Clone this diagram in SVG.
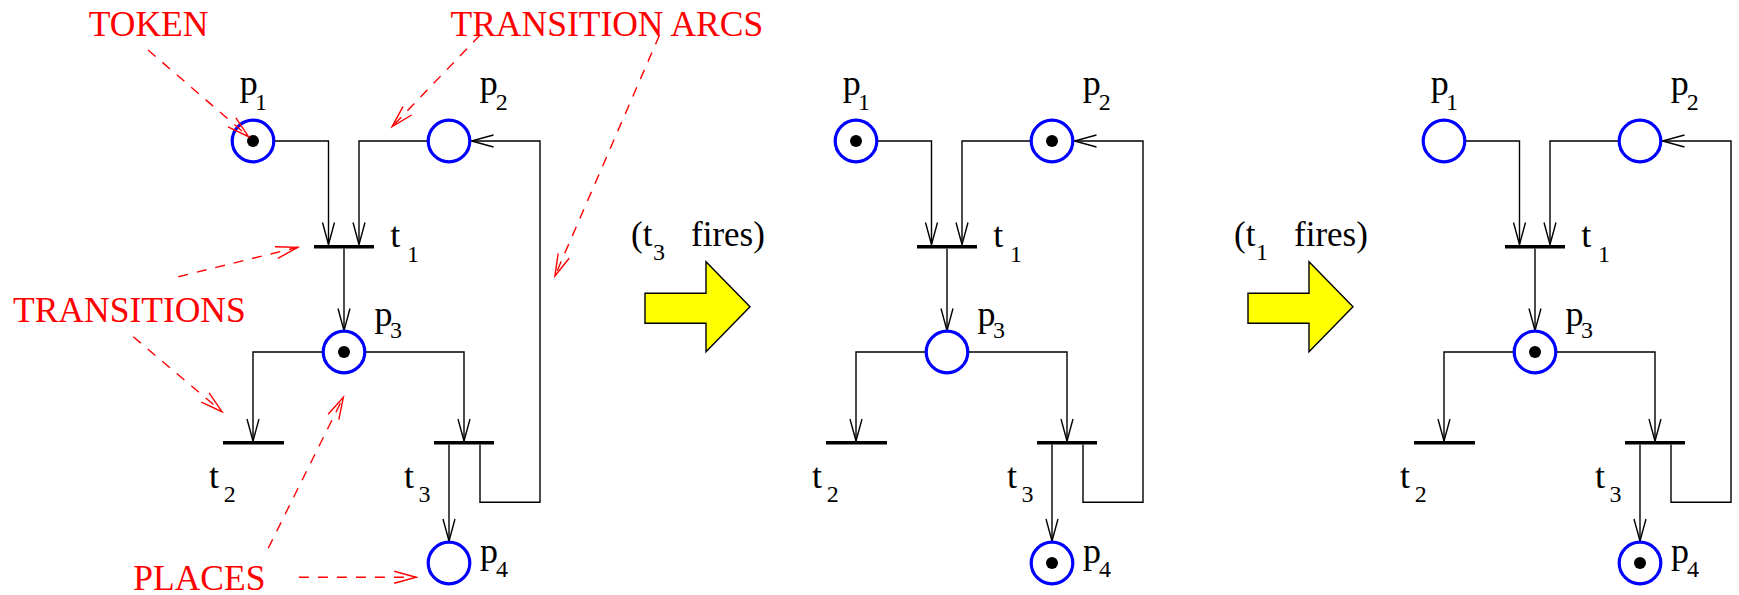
<svg xmlns="http://www.w3.org/2000/svg" width="1739" height="595" viewBox="0 0 1739 595">
<style>
.place{fill:#fff;stroke:#0000ff;stroke-width:3.2}
.tok{fill:#000}
.bar{stroke:#000;stroke-width:3.5;fill:none}
.arc{fill:none;stroke:#000;stroke-width:1.4}
.lbl{font-family:'Liberation Serif','DejaVu Serif',serif;font-size:36px;fill:#000}
.sub{font-size:24px}
.note{font-family:'Liberation Serif','DejaVu Serif',serif;font-size:35.5px;fill:#ff0000}
.dash{fill:none;stroke:#ff0000;stroke-width:1.4;stroke-dasharray:10 9}
.fire{fill:#ffff00;stroke:#000;stroke-width:1.4}
</style>
<defs>
<marker id="ah" markerUnits="userSpaceOnUse" viewBox="-25 -8 27 16" refX="0" refY="0" markerWidth="27" markerHeight="16" orient="auto" overflow="visible">
<path d="M-22,-6 L0,0 L-22,6" fill="none" stroke="#000" stroke-width="1.4"/>
</marker>
<marker id="rah" markerUnits="userSpaceOnUse" viewBox="-25 -8 27 16" refX="0" refY="0" markerWidth="27" markerHeight="16" orient="auto" overflow="visible">
<path d="M-22,-6 L0,0 L-22,6" fill="none" stroke="#ff0000" stroke-width="1.4" stroke-dasharray="none"/>
</marker>
</defs>
<rect width="1739" height="595" fill="#fff"/>

<!-- Net 1 -->
<g id="net1">
<g id="net1-connectors">
<path class="arc" d="M274,141 H328.5 V244.5" marker-end="url(#ah)"/>
<path class="arc" d="M428,141 H359 V244.5" marker-end="url(#ah)"/>
<path class="arc" d="M344,248.5 V330.5" marker-end="url(#ah)"/>
<path class="arc" d="M323,352 H253 V441" marker-end="url(#ah)"/>
<path class="arc" d="M365,352 H464 V441" marker-end="url(#ah)"/>
<path class="arc" d="M449,444.5 V541" marker-end="url(#ah)"/>
<path class="arc" d="M480,444.5 V502.3 H540 V141 H471.5" marker-end="url(#ah)"/>
</g>
<g id="net1-p1"><circle class="place" cx="253" cy="141" r="20.8"/><circle class="tok" cx="253" cy="141" r="6"/><text class="lbl" font-family="Liberation Serif, serif"><tspan x="239.7" y="95">p</tspan><tspan class="sub" x="255" y="110">1</tspan></text></g>
<g id="net1-p2"><circle class="place" cx="449" cy="141" r="20.8"/><text class="lbl" font-family="Liberation Serif, serif"><tspan x="479.8" y="95">p</tspan><tspan class="sub" x="495.7" y="110">2</tspan></text></g>
<g id="net1-p3"><circle class="place" cx="344" cy="352" r="20.8"/><circle class="tok" cx="344" cy="352" r="6"/><text class="lbl" font-family="Liberation Serif, serif"><tspan x="374.4" y="326">p</tspan><tspan class="sub" x="390" y="338">3</tspan></text></g>
<g id="net1-p4"><circle class="place" cx="449" cy="563" r="20.8"/><text class="lbl" font-family="Liberation Serif, serif"><tspan x="480" y="563">p</tspan><tspan class="sub" x="496" y="577">4</tspan></text></g>
<g id="net1-t1"><line class="bar" x1="314" y1="246.7" x2="374" y2="246.7"/><text class="lbl" font-family="Liberation Serif, serif"><tspan x="390.3" y="247">t</tspan><tspan class="sub" x="406.9" y="261.5">1</tspan></text></g>
<g id="net1-t2"><line class="bar" x1="223" y1="442.7" x2="284" y2="442.7"/><text class="lbl" font-family="Liberation Serif, serif"><tspan x="209" y="487.7">t</tspan><tspan class="sub" x="223.8" y="502.3">2</tspan></text></g>
<g id="net1-t3"><line class="bar" x1="434" y1="442.7" x2="494" y2="442.7"/><text class="lbl" font-family="Liberation Serif, serif"><tspan x="404" y="487.7">t</tspan><tspan class="sub" x="418.5" y="502">3</tspan></text></g>
</g>

<!-- Annotations -->
<g id="annotations">
<text class="note" font-family="Liberation Serif, serif" x="88.8" y="36">TOKEN</text>
<text class="note" font-family="Liberation Serif, serif" x="450.5" y="36">TRANSITION ARCS</text>
<text class="note" font-family="Liberation Serif, serif" x="13" y="321.7">TRANSITIONS</text>
<text class="note" font-family="Liberation Serif, serif" x="133.3" y="589.5">PLACES</text>
</g>
<g id="annotation-arrows">
<path class="dash" d="M148,50 L248.6,136.7" marker-end="url(#rah)"/>
<path class="dash" d="M480.1,35 L392.1,126.7" marker-end="url(#rah)"/>
<path class="dash" d="M659.5,35 L554.9,276" marker-end="url(#rah)"/>
<path class="dash" d="M178.3,276.7 L297.8,247.3" marker-end="url(#rah)"/>
<path class="dash" d="M133.2,336.7 L222,411.7" marker-end="url(#rah)"/>
<path class="dash" d="M268.2,548.3 L343.3,397.3" marker-end="url(#rah)"/>
<path class="dash" d="M298.9,577.3 L416.2,577.3" marker-end="url(#rah)"/>
</g>

<!-- Firing step 1 -->
<g id="fire1">
<polygon class="fire" points="645,293.3 706,293.3 706,261.7 750,306.7 706,351.7 706,323.3 645,323.3"/>
<text class="lbl" font-family="Liberation Serif, serif" style="font-size:35px"><tspan x="631" y="246">(t</tspan><tspan class="sub" x="653" y="260">3</tspan><tspan x="691" y="246">fires)</tspan></text>
</g>

<!-- Net 2 -->
<g id="net2" transform="translate(603,0)">
<g id="net2-connectors">
<path class="arc" d="M274,141 H328.5 V244.5" marker-end="url(#ah)"/>
<path class="arc" d="M428,141 H359 V244.5" marker-end="url(#ah)"/>
<path class="arc" d="M344,248.5 V330.5" marker-end="url(#ah)"/>
<path class="arc" d="M323,352 H253 V441" marker-end="url(#ah)"/>
<path class="arc" d="M365,352 H464 V441" marker-end="url(#ah)"/>
<path class="arc" d="M449,444.5 V541" marker-end="url(#ah)"/>
<path class="arc" d="M480,444.5 V502.3 H540 V141 H471.5" marker-end="url(#ah)"/>
</g>
<g id="net2-p1"><circle class="place" cx="253" cy="141" r="20.8"/><circle class="tok" cx="253" cy="141" r="6"/><text class="lbl" font-family="Liberation Serif, serif"><tspan x="239.7" y="95">p</tspan><tspan class="sub" x="255" y="110">1</tspan></text></g>
<g id="net2-p2"><circle class="place" cx="449" cy="141" r="20.8"/><circle class="tok" cx="449" cy="141" r="6"/><text class="lbl" font-family="Liberation Serif, serif"><tspan x="479.8" y="95">p</tspan><tspan class="sub" x="495.7" y="110">2</tspan></text></g>
<g id="net2-p3"><circle class="place" cx="344" cy="352" r="20.8"/><text class="lbl" font-family="Liberation Serif, serif"><tspan x="374.4" y="326">p</tspan><tspan class="sub" x="390" y="338">3</tspan></text></g>
<g id="net2-p4"><circle class="place" cx="449" cy="563" r="20.8"/><circle class="tok" cx="449" cy="563" r="6"/><text class="lbl" font-family="Liberation Serif, serif"><tspan x="480" y="563">p</tspan><tspan class="sub" x="496" y="577">4</tspan></text></g>
<g id="net2-t1"><line class="bar" x1="314" y1="246.7" x2="374" y2="246.7"/><text class="lbl" font-family="Liberation Serif, serif"><tspan x="390.3" y="247">t</tspan><tspan class="sub" x="406.9" y="261.5">1</tspan></text></g>
<g id="net2-t2"><line class="bar" x1="223" y1="442.7" x2="284" y2="442.7"/><text class="lbl" font-family="Liberation Serif, serif"><tspan x="209" y="487.7">t</tspan><tspan class="sub" x="223.8" y="502.3">2</tspan></text></g>
<g id="net2-t3"><line class="bar" x1="434" y1="442.7" x2="494" y2="442.7"/><text class="lbl" font-family="Liberation Serif, serif"><tspan x="404" y="487.7">t</tspan><tspan class="sub" x="418.5" y="502">3</tspan></text></g>
</g>

<!-- Firing step 2 -->
<g id="fire2" transform="translate(603,0)">
<polygon class="fire" points="645,293.3 706,293.3 706,261.7 750,306.7 706,351.7 706,323.3 645,323.3"/>
<text class="lbl" font-family="Liberation Serif, serif" style="font-size:35px"><tspan x="631" y="246">(t</tspan><tspan class="sub" x="653" y="260">1</tspan><tspan x="691" y="246">fires)</tspan></text>
</g>

<!-- Net 3 -->
<g id="net3" transform="translate(1191,0)">
<g id="net3-connectors">
<path class="arc" d="M274,141 H328.5 V244.5" marker-end="url(#ah)"/>
<path class="arc" d="M428,141 H359 V244.5" marker-end="url(#ah)"/>
<path class="arc" d="M344,248.5 V330.5" marker-end="url(#ah)"/>
<path class="arc" d="M323,352 H253 V441" marker-end="url(#ah)"/>
<path class="arc" d="M365,352 H464 V441" marker-end="url(#ah)"/>
<path class="arc" d="M449,444.5 V541" marker-end="url(#ah)"/>
<path class="arc" d="M480,444.5 V502.3 H540 V141 H471.5" marker-end="url(#ah)"/>
</g>
<g id="net3-p1"><circle class="place" cx="253" cy="141" r="20.8"/><text class="lbl" font-family="Liberation Serif, serif"><tspan x="239.7" y="95">p</tspan><tspan class="sub" x="255" y="110">1</tspan></text></g>
<g id="net3-p2"><circle class="place" cx="449" cy="141" r="20.8"/><text class="lbl" font-family="Liberation Serif, serif"><tspan x="479.8" y="95">p</tspan><tspan class="sub" x="495.7" y="110">2</tspan></text></g>
<g id="net3-p3"><circle class="place" cx="344" cy="352" r="20.8"/><circle class="tok" cx="344" cy="352" r="6"/><text class="lbl" font-family="Liberation Serif, serif"><tspan x="374.4" y="326">p</tspan><tspan class="sub" x="390" y="338">3</tspan></text></g>
<g id="net3-p4"><circle class="place" cx="449" cy="563" r="20.8"/><circle class="tok" cx="449" cy="563" r="6"/><text class="lbl" font-family="Liberation Serif, serif"><tspan x="480" y="563">p</tspan><tspan class="sub" x="496" y="577">4</tspan></text></g>
<g id="net3-t1"><line class="bar" x1="314" y1="246.7" x2="374" y2="246.7"/><text class="lbl" font-family="Liberation Serif, serif"><tspan x="390.3" y="247">t</tspan><tspan class="sub" x="406.9" y="261.5">1</tspan></text></g>
<g id="net3-t2"><line class="bar" x1="223" y1="442.7" x2="284" y2="442.7"/><text class="lbl" font-family="Liberation Serif, serif"><tspan x="209" y="487.7">t</tspan><tspan class="sub" x="223.8" y="502.3">2</tspan></text></g>
<g id="net3-t3"><line class="bar" x1="434" y1="442.7" x2="494" y2="442.7"/><text class="lbl" font-family="Liberation Serif, serif"><tspan x="404" y="487.7">t</tspan><tspan class="sub" x="418.5" y="502">3</tspan></text></g>
</g>
</svg>
